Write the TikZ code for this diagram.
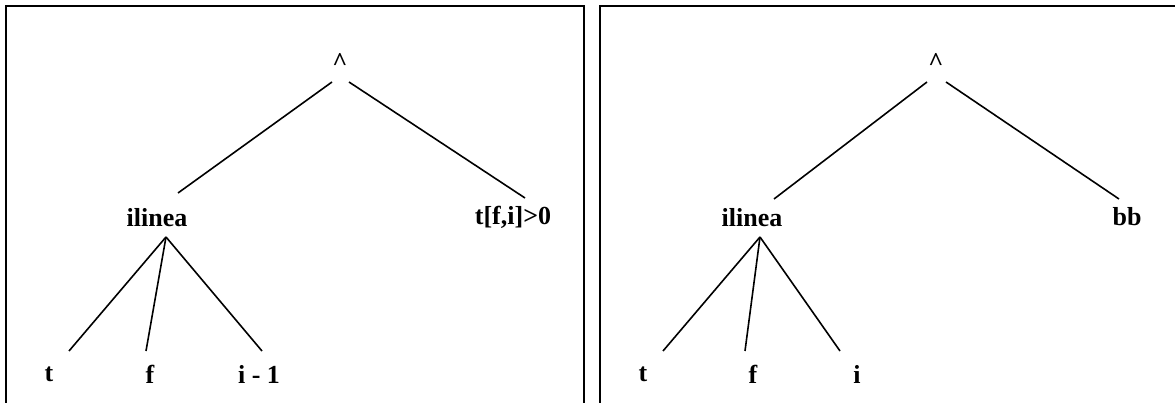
\documentclass[tikz,border=0pt]{standalone}
\usepackage{fontspec}
\setmainfont{Liberation Serif}
\begin{document}
\begin{tikzpicture}[x=1pt,y=-1pt,
  lbl/.style={inner sep=0pt,font=\fontsize{26}{30}\selectfont\bfseries},
  edge/.style={line width=1.6pt},
  frame/.style={line width=2.2pt}]
\useasboundingbox (0,0) rectangle (1175,403);
% frames
\draw[frame] (6,410) -- (6,6) -- (584,6) -- (584,410);
\draw[frame] (600,410) -- (600,6) -- (1180,6);
% left tree
\node[lbl] (topL) at (340,62) {\textasciicircum};
\node[lbl] (ilL) at (157,218) {ilinea};
\node[lbl] (cond) at (513,217) {t[f,i]>0};
\node[lbl] (tL) at (49,374) {t};
\node[lbl] (fL) at (150,374) {f};
\node[lbl] (iL) at (259,374) {i - 1};
\draw[edge] ([shift={(-8,20)}]topL.center) -- ([shift={(21,-25)}]ilL.center);
\draw[edge] ([shift={(9,20)}]topL.center) -- ([shift={(12,-19)}]cond.center);
\draw[edge] ([shift={(9,19)}]ilL.center) -- ([shift={(20,-23)}]tL.center);
\draw[edge] ([shift={(9,19)}]ilL.center) -- ([shift={(-4,-23)}]fL.center);
\draw[edge] ([shift={(9,19)}]ilL.center) -- ([shift={(3,-23)}]iL.center);
% right tree
\node[lbl] (topR) at (936,62) {\textasciicircum};
\node[lbl] (ilR) at (752,218) {ilinea};
\node[lbl] (bb) at (1127,217) {bb};
\node[lbl] (tR) at (643,374) {t};
\node[lbl] (fR) at (753,374) {f};
\node[lbl] (iR) at (857,374) {i};
\draw[edge] ([shift={(-9,20)}]topR.center) -- ([shift={(22,-19)}]ilR.center);
\draw[edge] ([shift={(10,20)}]topR.center) -- ([shift={(-8,-18)}]bb.center);
\draw[edge] ([shift={(8,19)}]ilR.center) -- ([shift={(20,-23)}]tR.center);
\draw[edge] ([shift={(8,19)}]ilR.center) -- ([shift={(-8,-23)}]fR.center);
\draw[edge] ([shift={(8,19)}]ilR.center) -- ([shift={(-17,-23)}]iR.center);
\end{tikzpicture}
\end{document}
